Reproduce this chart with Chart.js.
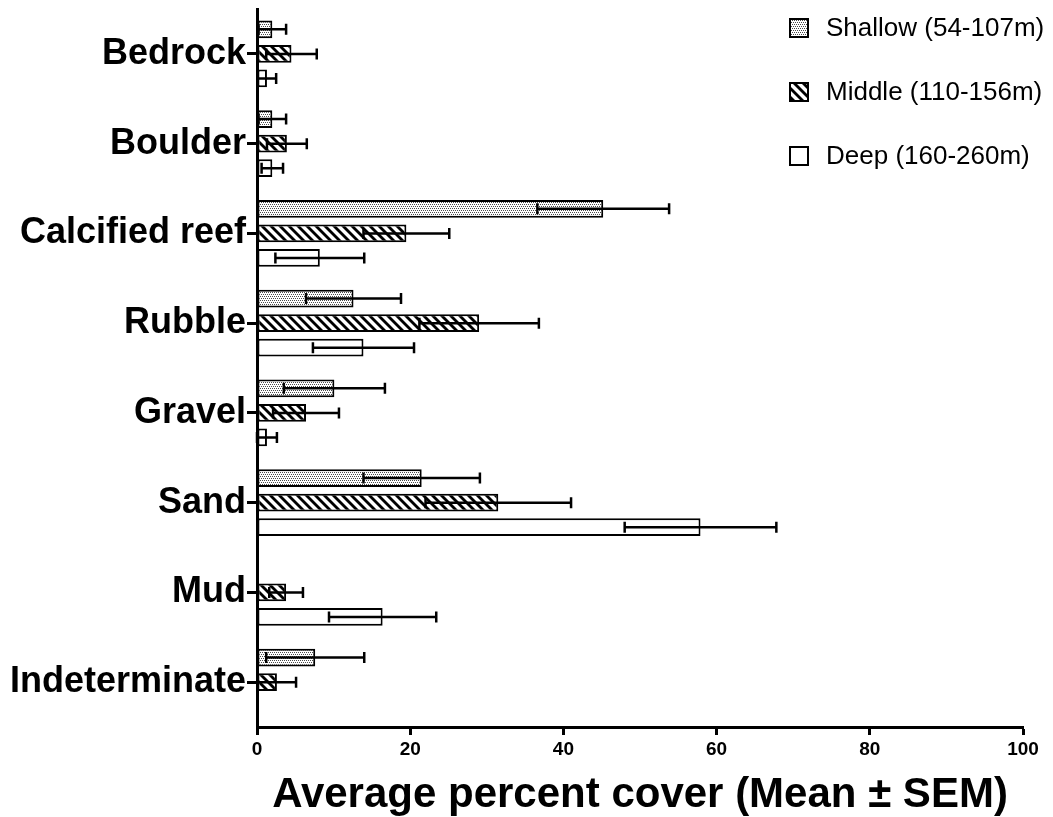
<!DOCTYPE html>
<html>
<head>
<meta charset="utf-8">
<script src="https://cdn.jsdelivr.net/npm/chart.js@4/dist/chart.umd.min.js"></script>
<style>
  html, body { margin: 0; padding: 0; background: #fff; }
  #wrap { width: 1053px; height: 817px; }
</style>
</head>
<body>
<div id="wrap"><canvas id="c" width="1053" height="817"></canvas></div>
<script>
// Substrate categories and depth strata
const categories = ['Bedrock', 'Boulder', 'Calcified reef', 'Rubble', 'Gravel', 'Sand', 'Mud', 'Indeterminate'];
const seriesNames = ['Shallow (54-107m)', 'Middle (110-156m)', 'Deep (160-260m)'];

// Mean percent cover and standard error of the mean, per stratum
const shallowMean = [2.0, 2.0, 45.2, 12.6, 10.1, 21.5, 0, 7.6];
const shallowSem  = [1.8, 1.8, 8.6, 6.2, 6.6, 7.6, 0, 6.4];
const middleMean  = [4.5, 3.9, 19.5, 29.0, 6.4, 31.5, 3.8, 2.6];
const middleSem   = [3.3, 2.6, 5.6, 7.8, 4.3, 9.5, 2.2, 2.5];
const deepMean    = [1.3, 2.0, 8.2, 13.9, 1.3, 57.9, 16.4, 0];
const deepSem     = [1.2, 1.4, 5.8, 6.6, 1.3, 9.9, 7.0, 0];

const xTicks = [0, 20, 40, 60, 80, 100];

const FONT = "'Liberation Sans', Arial, sans-serif";

// Fill patterns: fine stipple, diagonal hatch, plain white
function stipple() {
  const c = document.createElement('canvas');
  c.width = 4; c.height = 4;
  const g = c.getContext('2d');
  g.fillStyle = '#fff'; g.fillRect(0, 0, 4, 4);
  g.fillStyle = '#4a4a4a';
  g.fillRect(0, 0, 1, 1);
  g.fillRect(2, 0, 1, 1);
  g.fillRect(1, 2, 1, 1);
  g.fillRect(3, 2, 1, 1);
  return g.createPattern(c, 'repeat');
}
function hatch() {
  const s = 9;
  const c = document.createElement('canvas');
  c.width = s; c.height = s;
  const g = c.getContext('2d');
  g.fillStyle = '#fff'; g.fillRect(0, 0, s, s);
  g.strokeStyle = '#000'; g.lineWidth = 2.8;
  for (const o of [-s, 0, s]) {
    g.beginPath(); g.moveTo(o - 1, -1); g.lineTo(o + s + 1, s + 1); g.stroke();
  }
  return g.createPattern(c, 'repeat');
}
const fills = [stipple(), hatch(), '#ffffff'];
const means = [shallowMean, middleMean, deepMean];
const sems = [shallowSem, middleSem, deepSem];

// Mean ± SEM whiskers drawn over each bar
const errorBars = {
  id: 'errorBars',
  afterDatasetsDraw(chart) {
    const ctx = chart.ctx;
    const xs = chart.scales.x;
    chart.data.datasets.forEach((ds, di) => {
      const meta = chart.getDatasetMeta(di);
      meta.data.forEach((bar, i) => {
        const m = ds.data[i], e = ds.sem[i];
        if (!e) return;
        const y = bar.y;
        const x0 = xs.getPixelForValue(Math.max(0, m - e));
        const x1 = xs.getPixelForValue(m + e);
        ctx.save();
        ctx.strokeStyle = '#000';
        ctx.lineWidth = 2.5;
        ctx.beginPath();
        ctx.moveTo(x0, y); ctx.lineTo(x1, y);
        ctx.moveTo(x0, y - 5.5); ctx.lineTo(x0, y + 5.5);
        ctx.moveTo(x1, y - 5.5); ctx.lineTo(x1, y + 5.5);
        ctx.stroke();
        ctx.restore();
      });
    });
  }
};

// Legend in the upper right, inside the plot
const sideLegend = {
  id: 'sideLegend',
  afterDraw(chart) {
    const ctx = chart.ctx;
    ctx.save();
    chart.data.datasets.forEach((ds, i) => {
      const cy = 28 + i * 64;
      const bx = 790, bs = 18;
      ctx.fillStyle = ds.backgroundColor;
      ctx.fillRect(bx, cy - bs / 2, bs, bs);
      ctx.strokeStyle = '#000';
      ctx.lineWidth = 2;
      ctx.strokeRect(bx, cy - bs / 2, bs, bs);
      ctx.fillStyle = '#000';
      ctx.font = '26px ' + FONT;
      ctx.textBaseline = 'middle';
      ctx.textAlign = 'left';
      ctx.fillText(ds.label, 826, cy + 1);
    });
    ctx.restore();
  }
};

new Chart(document.getElementById('c'), {
  type: 'bar',
  data: {
    labels: categories,
    datasets: seriesNames.map((name, i) => ({
      label: name,
      data: means[i],
      sem: sems[i],
      backgroundColor: fills[i],
      borderColor: '#000',
      borderWidth: 2,
      borderSkipped: false,
      categoryPercentage: 0.82,
      barPercentage: 0.72
    }))
  },
  options: {
    indexAxis: 'y',
    responsive: false,
    animation: false,
    devicePixelRatio: 1,
    layout: { padding: { top: 9, right: 30, left: 0, bottom: 0 } },
    plugins: { legend: { display: false }, tooltip: { enabled: false } },
    scales: {
      y: {
        type: 'category',
        offset: true,
        grid: { display: true, offset: false, drawOnChartArea: false, drawTicks: true, tickLength: 10, tickWidth: 3, tickColor: '#000' },
        border: { display: true, width: 3, color: '#000' },
        ticks: { color: '#000', autoSkip: false, padding: 1, font: { family: FONT, size: 36, weight: 'bold' } },
        afterFit(s) { s.width = 257; s.paddingTop = 0; s.paddingBottom = 0; }
      },
      x: {
        type: 'linear',
        min: 0,
        max: 100,
        afterBuildTicks(s) { s.ticks = xTicks.map(v => ({ value: v })); },
        grid: { display: true, drawOnChartArea: false, drawTicks: true, tickLength: 8, tickWidth: 3, tickColor: '#000' },
        border: { display: true, width: 3, color: '#000' },
        ticks: { color: '#000', padding: 3, maxRotation: 0, font: { family: FONT, size: 19, weight: 'bold' } },
        title: {
          display: true,
          text: 'Average percent cover (Mean ± SEM)',
          color: '#000',
          font: { family: FONT, size: 42, weight: 'bold', lineHeight: 1 },
          padding: { top: 0, bottom: 1 }
        },
        afterFit(s) { s.height = 90; }
      }
    }
  },
  plugins: [errorBars, sideLegend]
});
</script>
</body>
</html>
